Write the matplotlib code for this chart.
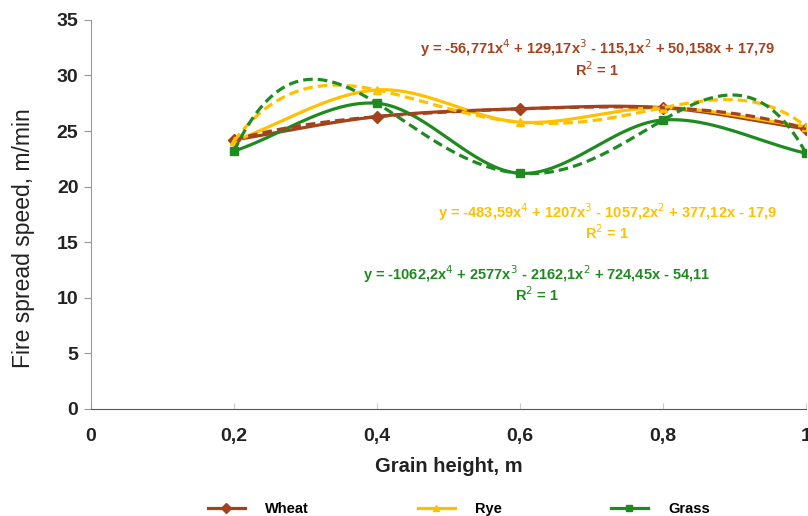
import numpy as np
import matplotlib
matplotlib.use('Agg')
import matplotlib.pyplot as plt
from matplotlib.lines import Line2D

plt.rcParams['font.family'] = ['Liberation Sans', 'DejaVu Sans']

# Data
heights = [0.2, 0.4, 0.6, 0.8, 1.0]
wheat = [24.2, 26.3, 27.0, 27.1, 25.2]
rye = [24.1, 28.7, 25.8, 27.1, 25.4]
grass = [23.2, 27.5, 21.2, 26.0, 23.0]

names = ['Wheat', 'Rye', 'Grass']
colors = ['#A3421C', '#FFC000', '#1F8A1F']
markers = ['D', '^', 's']
equations = ['y = -56,771x$^4$ + 129,17x$^3$ - 115,1x$^2$ + 50,158x + 17,79\nR$^2$ = 1',
             'y = -483,59x$^4$ + 1207x$^3$ - 1057,2x$^2$ + 377,12x - 17,9\nR$^2$ = 1',
             'y = -1062,2x$^4$ + 2577x$^3$ - 2162,1x$^2$ + 724,45x - 54,11\nR$^2$ = 1']
eq_pos = [(0.708, 0.955), (0.722, 0.535), (0.624, 0.375)]


def smooth(xs, ys, n=40):
    # Catmull-Rom style smoothing like Excel's smoothed line
    xs = np.asarray(xs, float)
    ys = np.asarray(ys, float)
    px = np.concatenate([[2 * xs[0] - xs[1]], xs, [2 * xs[-1] - xs[-2]]])
    py = np.concatenate([[2 * ys[0] - ys[1]], ys, [2 * ys[-1] - ys[-2]]])
    outx, outy = [], []
    t = np.linspace(0, 1, n)
    for i in range(1, len(px) - 2):
        for arr, out in ((px, outx), (py, outy)):
            p0, p1, p2, p3 = arr[i - 1], arr[i], arr[i + 1], arr[i + 2]
            out.extend(0.5 * (2 * p1 + (-p0 + p2) * t
                              + (2 * p0 - 5 * p1 + 4 * p2 - p3) * t ** 2
                              + (-p0 + 3 * p1 - 3 * p2 + p3) * t ** 3))
    return np.array(outx), np.array(outy)


fig = plt.figure(figsize=(8.08, 5.16), dpi=100)
ax = fig.add_axes([0.1126, 0.2074, 0.885, 0.754])

series = [wheat, rye, grass]
for ys, c, m in zip(series, colors, markers):
    sx, sy = smooth(heights, ys)
    ax.plot(sx, sy, color=c, lw=2.3, zorder=3)
    ax.plot(heights, ys, ls='none', marker=m, color=c, ms=6, zorder=4)

xx = np.linspace(heights[0], heights[-1], 200)
for ys, c in zip(series, colors):
    coef = np.polyfit(heights, ys, 4)
    ax.plot(xx, np.polyval(coef, xx), color=c, lw=2.3, ls=(0, (3, 1.6)), zorder=5)

for eq, (ex, ey), c in zip(equations, eq_pos, colors):
    ax.text(ex, ey, eq, transform=ax.transAxes, color=c, fontsize=10.5,
            fontweight='bold', ha='center', va='top', linespacing=1.05)

ax.set_xlim(0, 1)
ax.set_ylim(0, 35)
ax.set_xticks([0, 0.2, 0.4, 0.6, 0.8, 1.0])
ax.set_xticklabels(['0', '0,2', '0,4', '0,6', '0,8', '1'])
ax.set_yticks(range(0, 36, 5))
ax.tick_params(axis='y', length=5, color='#999999', labelsize=14, pad=4)
ax.tick_params(axis='x', direction='in', length=4, color='#cccccc',
               labelsize=14, pad=14)
for lab in ax.get_xticklabels() + ax.get_yticklabels():
    lab.set_fontweight('bold')
    lab.set_color('#222222')

ax.spines['top'].set_visible(False)
ax.spines['right'].set_visible(False)
ax.spines['left'].set_color('#999999')
ax.spines['bottom'].set_color('#555555')

ax.set_xlabel('Grain height, m', fontsize=14.5, fontweight='bold',
              color='#222222', labelpad=8)
ax.set_ylabel('Fire spread speed, m/min', fontsize=16.5, color='#222222')
ax.yaxis.set_label_coords(-0.078, 0.44)

handles = [Line2D([0], [0], color=c, marker=m, lw=2.3, ms=5)
           for c, m in zip(colors, markers)]
fig.legend(handles, names, loc='lower center', bbox_to_anchor=(0.568, -0.025),
           ncol=3, frameon=False, columnspacing=7.5, handlelength=2.5,
           handletextpad=1.4, prop={'weight': 'bold', 'size': 10.5})

fig.savefig('out.png', dpi=100)
